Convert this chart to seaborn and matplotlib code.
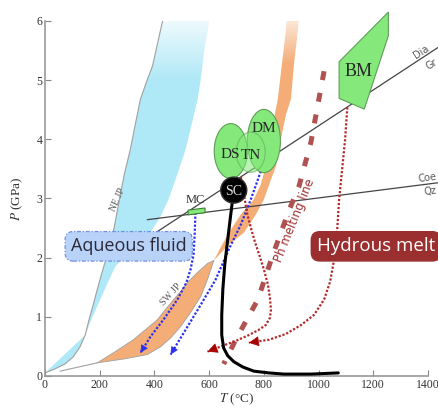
import matplotlib
matplotlib.use("Agg")
import matplotlib.pyplot as plt
import numpy as np
import pandas as pd
import seaborn as sns
from matplotlib.patches import Ellipse, Polygon

# ---- data (T in degC, P in GPa) ----
ne_left_t = [0, 37, 73, 103, 128, 147, 161, 176, 191, 206, 220, 239, 253, 272, 290, 312,
             330, 349, 371, 393, 411, 426, 433]
ne_left_p = [0.05, 0.12, 0.20, 0.32, 0.49, 0.69, 0.95, 1.20, 1.46, 1.71, 1.93, 2.22, 2.51,
             2.98, 3.41, 3.83, 4.25, 4.68, 4.97, 5.24, 5.61, 5.92, 6.07]
ne_right_t = [147, 172, 202, 228, 257, 290, 330, 385, 422, 451, 484, 514, 536, 558, 572,
              583, 598, 602]
ne_right_p = [0.69, 0.98, 1.29, 1.56, 1.85, 2.02, 2.19, 2.42, 2.69, 2.98, 3.41, 3.83, 4.25,
              4.68, 5.10, 5.53, 5.92, 6.07]

sw_tail_t = [55, 191]
sw_tail_p = [0.08, 0.22]
sw_low_upper_t = [191, 257, 323, 367, 411, 440, 470, 495, 521, 558, 594, 617]
sw_low_upper_p = [0.22, 0.41, 0.61, 0.78, 0.95, 1.12, 1.29, 1.42, 1.58, 1.75, 1.90, 1.95]
sw_low_lower_t = [191, 294, 374, 422, 459, 495, 532, 569, 594, 617]
sw_low_lower_p = [0.22, 0.29, 0.36, 0.49, 0.64, 0.83, 1.07, 1.34, 1.63, 1.95]
sw_up_left_t = [617, 642, 672, 716, 763, 789, 807, 826, 840, 851, 866, 881, 884]
sw_up_left_p = [1.95, 2.17, 2.42, 2.73, 2.98, 3.24, 3.54, 4.00, 4.42, 4.68, 5.27, 5.86, 6.07]
sw_up_right_t = [617, 672, 727, 771, 800, 826, 844, 862, 881, 899, 910, 925, 928]
sw_up_right_p = [1.95, 2.22, 2.42, 2.73, 2.98, 3.32, 3.54, 4.00, 4.42, 4.68, 5.27, 5.86, 6.07]

dia_gr_t = [411, 1446]
dia_gr_p = [2.44, 5.58]
coe_qz_t = [374, 1446]
coe_qz_p = [2.64, 3.27]

ph_melt_t = [1020, 972, 928, 892, 833, 778, 697, 653]
ph_melt_p = [5.15, 3.95, 3.20, 2.80, 2.05, 1.29, 0.61, 0.20]

blue_mc_t = [550, 547, 543, 532, 517, 484, 433, 385, 349]
blue_mc_p = [2.76, 2.39, 2.05, 1.80, 1.58, 1.29, 0.95, 0.66, 0.39]
blue_tn_t = [789, 752, 716, 672, 624, 569, 514, 459]
blue_tn_p = [3.46, 2.98, 2.56, 2.14, 1.63, 1.20, 0.78, 0.36]

red_sc_t = [716, 727, 738, 752, 767, 785, 800, 815, 822, 826, 822, 807, 782, 745, 697, 650, 594]
red_sc_p = [3.36, 3.07, 2.76, 2.51, 2.27, 2.02, 1.80, 1.54, 1.32, 1.12, 0.98, 0.86, 0.78,
            0.69, 0.59, 0.51, 0.41]
red_bm_t = [1105, 1097, 1086, 1075, 1068, 1057, 1042, 1020, 983, 936, 881, 818, 745]
red_bm_p = [4.54, 4.00, 3.49, 2.98, 2.47, 1.97, 1.59, 1.29, 1.03, 0.86, 0.71, 0.61, 0.56]

black_t = [690, 679, 668, 657, 650, 646, 646, 653, 668, 690, 723, 763, 818, 873, 972, 1072]
black_p = [3.14, 2.73, 2.31, 1.88, 1.46, 1.03, 0.69, 0.47, 0.34, 0.24, 0.15, 0.08, 0.05,
           0.03, 0.03, 0.05]

bm_t = [1255, 1255, 1167, 1075, 1075]
bm_p = [6.15, 5.75, 4.51, 4.69, 5.31]

# ellipses: name, centre T, centre P, width (degC), height (GPa)
ell_names = ["DS", "DM", "TN"]
ell_t = [679, 800, 752]
ell_p = [3.80, 3.97, 3.78]
ell_w = [121, 121, 106]
ell_h = [0.93, 1.07, 0.68]

sns.set_style("ticks")
plt.rcParams["font.family"] = ["Liberation Serif", "DejaVu Serif"]
plt.rcParams["mathtext.fontset"] = "stix"

fig = plt.figure(figsize=(4.39, 4.09), dpi=100)
ax = fig.add_axes([0.1025, 0.081, 0.8725, 0.8678])
ax.set_xlim(0, 1400)
ax.set_ylim(0, 6)


def gradient_band(t_poly, p_poly, rgb, fade_lo, fade_hi, z):
    poly = Polygon(np.column_stack([t_poly, p_poly]), closed=True,
                   facecolor="none", edgecolor="none")
    ax.add_patch(poly)
    yy = np.linspace(0, 6, 300)
    alpha = np.clip((fade_hi - yy) / (fade_hi - fade_lo), 0, 1)
    img = np.zeros((300, 1, 4))
    img[:, 0, :3] = rgb
    img[:, 0, 3] = alpha
    im = ax.imshow(img, extent=[0, 1400, 0, 6], origin="lower",
                   aspect="auto", zorder=z, interpolation="bilinear")
    im.set_clip_path(poly)


def line(t, p, **kw):
    df = pd.DataFrame({"T": t, "P": p})
    sns.lineplot(data=df, x="T", y="P", sort=False, estimator=None, ax=ax, **kw)


def arrow_head(t, p, color, size):
    t0, p0 = t[-2], p[-2]
    t1, p1 = t[-1], p[-1]
    ts = t1 - 0.05 * (t1 - t0)
    ps = p1 - 0.05 * (p1 - p0)
    ax.annotate("", xy=(t1, p1), xytext=(ts, ps),
                arrowprops=dict(arrowstyle="-|>", color=color, lw=0.5,
                                mutation_scale=size, shrinkA=0, shrinkB=0),
                zorder=6)


# NE JP band (blue)
gradient_band(ne_left_t + ne_right_t[::-1], ne_left_p + ne_right_p[::-1],
              (0.69, 0.91, 0.97), 5.0, 6.3, 1)
line(ne_left_t, ne_left_p, color="#a0a0a0", lw=0.8, zorder=2)

# SW JP band (orange)
gradient_band(sw_low_upper_t + sw_low_lower_t[::-1], sw_low_upper_p + sw_low_lower_p[::-1],
              (0.96, 0.68, 0.47), 5.3, 6.3, 1)
gradient_band(sw_up_left_t + sw_up_right_t[::-1], sw_up_left_p + sw_up_right_p[::-1],
              (0.96, 0.68, 0.47), 5.3, 6.3, 1)
line(sw_tail_t, sw_tail_p, color="#a0a0a0", lw=0.8, zorder=2)
line(sw_low_upper_t, sw_low_upper_p, color="#a0a0a0", lw=0.6, zorder=2)
line(sw_low_lower_t, sw_low_lower_p, color="#a0a0a0", lw=0.6, zorder=2)

# reaction lines
line(dia_gr_t, dia_gr_p, color="#444444", lw=0.9, zorder=3, clip_on=False)
line(coe_qz_t, coe_qz_p, color="#444444", lw=0.9, zorder=3, clip_on=False)
ax.text(1385, 5.40, "Dia", rotation=33, fontsize=7, color="#555555",
        family=["DejaVu Sans"], ha="center", va="bottom", rotation_mode="anchor")
ax.text(1405, 5.33, "Gr", rotation=33, fontsize=7, color="#555555",
        family=["DejaVu Sans"], ha="center", va="top", rotation_mode="anchor")
ax.text(1400, 3.26, "Coe", rotation=7, fontsize=7, color="#555555",
        family=["DejaVu Sans"], ha="center", va="bottom", rotation_mode="anchor")
ax.text(1405, 3.20, "Qz", rotation=7, fontsize=7, color="#555555",
        family=["DejaVu Sans"], ha="center", va="top", rotation_mode="anchor")

# Ph melting line
line(ph_melt_t, ph_melt_p, color="#b05252", lw=3.6, linestyle=(0, (1.8, 2.6)), zorder=3)
ax.text(914, 2.62, "Ph melting line", rotation=68, fontsize=8.5, color="#a03030",
        family=["DejaVu Sans"], ha="center", va="center")

# P-T paths
line(blue_mc_t, blue_mc_p, color="#2a30f0", lw=1.6, linestyle=(0, (1, 0.8)), zorder=4)
arrow_head(blue_mc_t, blue_mc_p, "#2a30f0", 12)
line(blue_tn_t, blue_tn_p, color="#2a30f0", lw=1.6, linestyle=(0, (1, 0.8)), zorder=4)
arrow_head(blue_tn_t, blue_tn_p, "#2a30f0", 12)
line(red_sc_t, red_sc_p, color="#b42a2a", lw=1.6, linestyle=(0, (1, 0.8)), zorder=4)
arrow_head(red_sc_t, red_sc_p, "#a80000", 16)
line(red_bm_t, red_bm_p, color="#b42a2a", lw=1.6, linestyle=(0, (1, 0.8)), zorder=4)
arrow_head(red_bm_t, red_bm_p, "#a80000", 16)
line(black_t, black_p, color="black", lw=2.2, zorder=5)

# localities
for name, t, p, w, h in zip(ell_names, ell_t, ell_p, ell_w, ell_h):
    a = 0.55 if name == "TN" else 1.0
    ax.add_patch(Ellipse((t, p), w, h, facecolor="#84e97a", edgecolor="#5e9e56",
                         lw=0.8, alpha=a, zorder=7))
ax.text(679, 3.74, "DS", fontsize=11, ha="center", va="center", zorder=9)
ax.text(752, 3.72, "TN", fontsize=11, ha="center", va="center", zorder=9)
ax.text(800, 4.19, "DM", fontsize=11, ha="center", va="center", zorder=9)

ax.add_patch(Polygon(np.column_stack([bm_t, bm_p]), closed=True, facecolor="#84e97a",
                     edgecolor="#5e9e56", lw=0.8, zorder=7, clip_on=False))
ax.text(1145, 5.15, "BM", fontsize=13, ha="center", va="center", zorder=9)

ax.add_patch(Ellipse((690, 3.14), 95, 0.44, facecolor="black", edgecolor="#333333",
                     zorder=8))
ax.text(690, 3.12, "SC", fontsize=10, color="#e0e0e0", ha="center", va="center", zorder=9)

mc_t, mc_p, mc_w, mc_h, mc_s = 554, 2.78, 62, 0.08, 0.00058
mc_ct = [mc_t - mc_w / 2, mc_t + mc_w / 2, mc_t + mc_w / 2, mc_t - mc_w / 2]
mc_cp = [mc_p - mc_h / 2 - mc_s * mc_w / 2, mc_p - mc_h / 2 + mc_s * mc_w / 2,
         mc_p + mc_h / 2 + mc_s * mc_w / 2, mc_p + mc_h / 2 - mc_s * mc_w / 2]
ax.add_patch(Polygon(np.column_stack([mc_ct, mc_cp]), closed=True, facecolor="#84e97a",
                     edgecolor="#3e7e36", lw=0.8, zorder=7))
ax.text(548, 2.88, "MC", fontsize=9, color="#333333", ha="center", va="bottom", zorder=9)

# band labels
ax.text(266, 2.98, "NE JP", rotation=66, fontsize=7, color="#555555",
        ha="center", va="center")
ax.text(459, 1.38, "SW JP", rotation=48, fontsize=7, color="#555555",
        ha="center", va="center")

# region boxes
ax.text(306, 2.19, "Aqueous fluid", fontsize=13, color="#2a2a3a",
        family=["Open Sans", "DejaVu Sans"], ha="center", va="center", zorder=9,
        bbox=dict(boxstyle="round,pad=0.32,rounding_size=0.45", fc="#b9d2f8", ec="#6f8fe6",
                  lw=0.9, ls=(0, (3, 1.5, 1, 1.5))))
ax.text(1210, 2.19, "Hydrous melt", fontsize=13.5, color="white",
        family=["Open Sans", "DejaVu Sans"], ha="center", va="center", zorder=9, clip_on=False,
        bbox=dict(boxstyle="round,pad=0.3,rounding_size=0.45", fc="#9b2f2f", ec="#9b2f2f"))

# axes styling
ax.set_xticks(range(0, 1401, 200))
ax.set_yticks(range(0, 7))
ax.tick_params(direction="in", length=4, width=0.8, color="#888888",
               labelsize=8.5, labelcolor="#333333", pad=2)
for side in ["top", "right"]:
    ax.spines[side].set_visible(False)
for side in ["left", "bottom"]:
    ax.spines[side].set_color("#999999")
    ax.spines[side].set_linewidth(1.2)
ax.set_xlabel("$T$ (°C)", fontsize=9.5, color="#333333", labelpad=1)
ax.set_ylabel("$P$ (GPa)", fontsize=9.5, color="#333333", labelpad=8)

fig.savefig("out.png", dpi=100)
